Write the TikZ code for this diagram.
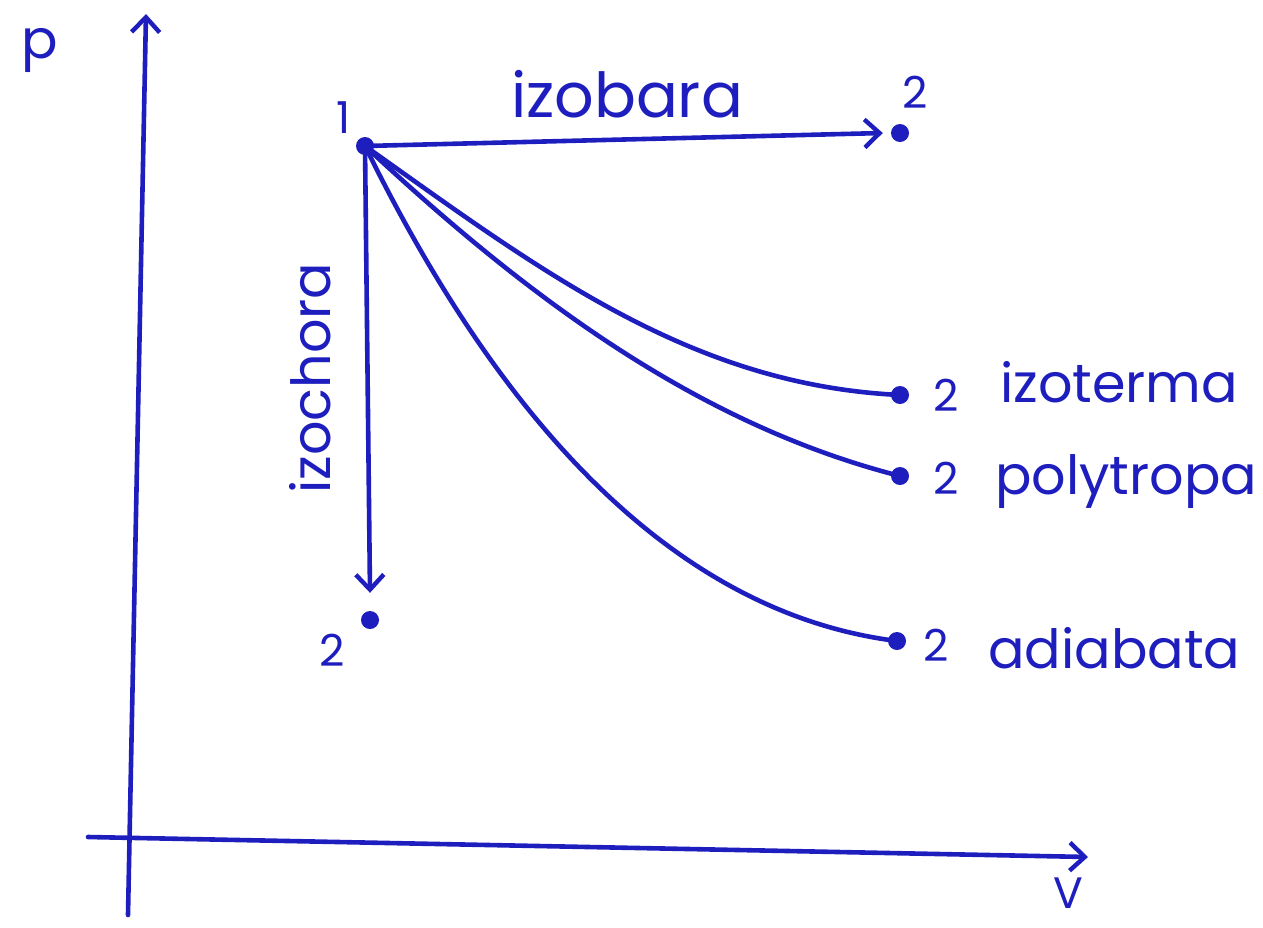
\documentclass[tikz,border=0pt]{standalone}
\usepackage{fontspec}
\setmainfont{Poppins}
\usetikzlibrary{arrows.meta}
\definecolor{pen}{RGB}{30,30,190}
\tikzset{
  ink/.style={draw=pen, line width=4.6pt, line cap=round},
  barb/.style={-{Straight Barb[length=15pt,width=28pt,line width=4.4pt]}},
  dot/.style={circle, fill=pen, inner sep=0pt, minimum size=18pt},
  lbl/.style={text=pen, font=\fontsize{54}{60}\selectfont, inner sep=0pt},
  num/.style={text=pen, font=\fontsize{44}{50}\selectfont, inner sep=0pt}
}
\begin{document}
\begin{tikzpicture}[x=1pt,y=-1pt]
\useasboundingbox (0,0) rectangle (1263,927);
% axes
\coordinate (pbot) at (128,915);
\coordinate (ptop) at (146,14);
\coordinate (vleft) at (88,837);
\coordinate (vright) at (1088,857);
\draw[ink,barb] (pbot) -- (ptop);
\draw[ink,barb] (vleft) -- (vright);
\node[lbl] (plab) at (40,50) {p};
\node[num, anchor=base] (vlab) at (1068,908) {V};
% points
\node[dot] (p1) at (365,146) {};
\node[dot] (p2b) at (900,133) {};
\node[dot] (p2c) at (370,620) {};
\node[dot] (p2t) at (900,395) {};
\node[dot] (p2p) at (900,476) {};
\node[dot] (p2a) at (897,641) {};
% labels
\node[num] (l1) at (344,118) {1};
\node[num] (l2b) at (915,92) {2};
\node[num] (l2c) at (332,650) {2};
\node[lbl, font=\fontsize{62}{66}\selectfont] (lb) at (627,94) {izobara};
\node[lbl, rotate=90] (lc) at (310,378) {izochora};
\node[num, anchor=west] (n2t) at (933,395) {2};
\node[lbl, anchor=west] (lt) at (1000,382) {izoterma};
\node[num, anchor=west] (n2p) at (933,478) {2};
\node[lbl, anchor=west] (lp) at (995,482) {polytropa};
\node[num, anchor=west] (n2a) at (923,645) {2};
\node[lbl, anchor=west] (la) at (988,648) {adiabata};
% processes
\draw[ink,barb] (p1.center) -- ([xshift=-8pt]p2b.west);
\draw[ink,barb] (p1.center) -- ([yshift=18pt]p2c.north);
\draw[ink] (p1.center) .. controls (540,270) and (690,385) .. (p2t.center);
\draw[ink] (p1.center) .. controls (530,300) and (700,425) .. (p2p.center);
\draw[ink] (p1.center) .. controls (480,380) and (650,610) .. (p2a.center);
\end{tikzpicture}
\end{document}
